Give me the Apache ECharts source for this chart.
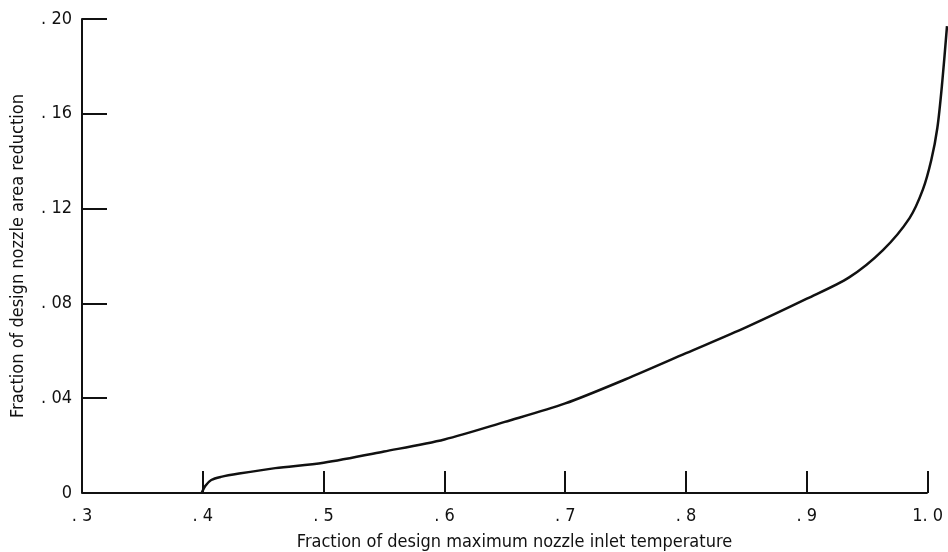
<!DOCTYPE html>
<html>
<head>
<meta charset="utf-8">
<script src="https://cdn.jsdelivr.net/npm/echarts@6/dist/echarts.min.js"></script>
<style>
html,body{margin:0;padding:0;background:#fff;}
#chart{width:948px;height:552px;}
</style>
</head>
<body>
<div id="chart"></div>
<script>
// Curve: fraction of design max nozzle inlet temperature (x) vs fraction of design nozzle area reduction (y)
const tempFraction = [0.399, 0.402, 0.407, 0.415, 0.43, 0.46, 0.5, 0.55, 0.6, 0.65, 0.7, 0.75, 0.8, 0.85, 0.9, 0.935, 0.963, 0.985, 0.996, 1.003, 1.008, 1.012, 1.016];
const areaReduction = [0.0, 0.003, 0.0055, 0.0068, 0.0082, 0.0105, 0.0128, 0.0175, 0.0226, 0.030, 0.0378, 0.048, 0.059, 0.070, 0.082, 0.091, 0.1025, 0.116, 0.128, 0.1405, 0.154, 0.173, 0.197];

const xTickValues = [0.3, 0.4, 0.5, 0.6, 0.7, 0.8, 0.9, 1.0];
const xTickLabels = ['. 3', '. 4', '. 5', '. 6', '. 7', '. 8', '. 9', '1. 0'];
const yTickValues = [0, 0.04, 0.08, 0.12, 0.16, 0.20];
const yTickLabels = ['0', '. 04', '. 08', '. 12', '. 16', '. 20'];

const xTitle = 'Fraction of design maximum nozzle inlet temperature';
const yTitle = 'Fraction of design nozzle area reduction';

const FONT = "'DejaVu Sans Condensed', 'Liberation Sans Narrow', 'DejaVu Sans', sans-serif";

function labelFor(values, labels, v) {
  for (let i = 0; i < values.length; i++) {
    if (Math.abs(values[i] - v) < 1e-6) return labels[i];
  }
  return '';
}

const xMin = xTickValues[0];
const xAxisEnd = xTickValues[xTickValues.length - 1];
const xMax = tempFraction[tempFraction.length - 1];

const chart = echarts.init(document.getElementById('chart'), null, {renderer: 'canvas'});
chart.setOption({
  animation: false,
  backgroundColor: '#fff',
  grid: {left: 82, right: 1, top: 19, bottom: 59, containLabel: false, outerBoundsMode: 'none'},
  xAxis: {
    type: 'value',
    min: xMin, max: xMax,
    name: xTitle,
    nameLocation: 'middle',
    nameGap: 40,
    nameTextStyle: {fontFamily: FONT, fontSize: 18, color: '#111'},
    axisLine: {show: false},
    axisTick: {show: true, inside: true, length: 22, customValues: xTickValues, lineStyle: {color: '#111', width: 2}},
    axisLabel: {
      fontFamily: FONT, fontSize: 18, color: '#111', margin: 14,
      customValues: xTickValues,
      formatter: v => labelFor(xTickValues, xTickLabels, v)
    },
    splitLine: {show: false}
  },
  yAxis: {
    type: 'value',
    min: 0, max: 0.2, interval: 0.04,
    name: yTitle,
    nameLocation: 'middle',
    nameGap: 55,
    nameRotate: 90,
    nameTextStyle: {fontFamily: FONT, fontSize: 18, color: '#111'},
    axisLine: {show: true, onZero: false, lineStyle: {color: '#111', width: 2}},
    axisTick: {show: true, inside: true, length: 25, lineStyle: {color: '#111', width: 2}},
    axisLabel: {
      fontFamily: FONT, fontSize: 18, color: '#111', margin: 10,
      formatter: v => labelFor(yTickValues, yTickLabels, v)
    },
    splitLine: {show: false}
  },
  series: [
    {
      name: 'baseline',
      type: 'line',
      data: [[xMin, 0], [xAxisEnd, 0]],
      showSymbol: false,
      silent: true,
      lineStyle: {color: '#111', width: 2}
    },
    {
      name: 'curve',
      type: 'line',
      data: tempFraction.map((x, i) => [x, areaReduction[i]]),
      smooth: 0.3,
      showSymbol: false,
      clip: false,
      lineStyle: {color: '#111', width: 2.5}
    }
  ]
});
</script>
</body>
</html>
